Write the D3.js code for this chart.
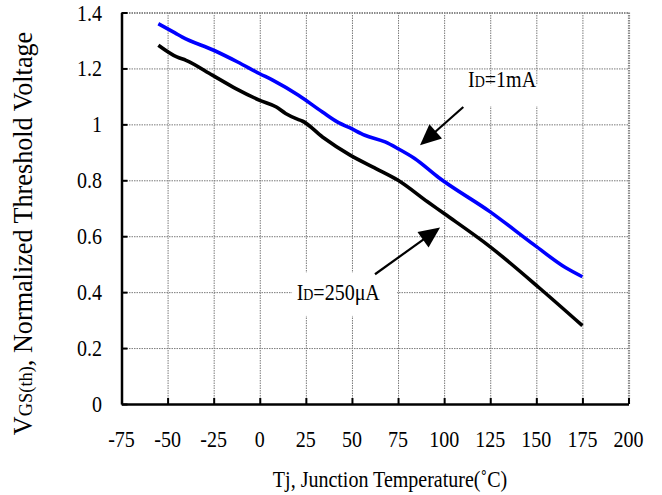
<!DOCTYPE html>
<html><head><meta charset="utf-8">
<script src="https://cdn.jsdelivr.net/npm/d3@7"></script>
<style>body{margin:0;background:#fff} text{font-family:"Liberation Serif","Times New Roman",Times,"DejaVu Serif",serif;}</style>
</head><body>
<svg id="c" width="662" height="495"></svg>
<script>
// ---- data ----
const xTicks = [-75,-50,-25,0,25,50,75,100,125,150,175,200];
const xTickLabels = ["-75","-50","-25","0","25","50","75","100","125","150","175","200"];
const yTicks = [0,0.2,0.4,0.6,0.8,1,1.2,1.4];
const yTickLabels = ["0","0.2","0.4","0.6","0.8","1","1.2","1.4"];
const temp1mA = [-55,-46,-42,-25,-12,0,7,21,34,43,49,57,68,75,84,97,125,149,166,175];
const vth1mA  = [1.36,1.327,1.312,1.265,1.223,1.181,1.158,1.104,1.044,1.005,0.987,0.961,0.937,0.913,0.878,0.81,0.687,0.568,0.487,0.455];
const temp250uA = [-55,-45,-40,-25.5,-13,0,9,14,21,23,34,49,63,75,91,100,125,152,175];
const vth250uA  = [1.283,1.241,1.229,1.175,1.128,1.086,1.062,1.039,1.017,1.012,0.955,0.89,0.842,0.80,0.723,0.681,0.562,0.413,0.28];
const label1mA = {main:"I", sub:"D", rest:"=1mA"};
const label250 = {main:"I", sub:"D", rest:"=250μA"};
const xTitle = "Tj, Junction Temperature(˚C)";
const yTitle = {main:"V", sub:"GS(th)", rest:", Normalized Threshold Voltage"};

// ---- layout ----
const SX = 0.87;
const svg = d3.select("#c");
const x = d3.scaleLinear().domain([-75,200]).range([121.5,628.5]);
const y = d3.scaleLinear().domain([0,1.4]).range([404,12.5]);
const X0 = x(-75), X1 = x(200), Y0 = y(0), Y1 = y(1.4);

// grid
const gx = svg.append("g").attr("transform",`translate(0,${Y0})`)
  .call(d3.axisBottom(x).tickValues(xTicks.slice(1)).tickSize(-(Y0-Y1)).tickFormat(""));
const gy = svg.append("g").attr("transform",`translate(${X0},0)`)
  .call(d3.axisLeft(y).tickValues(yTicks.slice(1)).tickSize(-(X1-X0)).tickFormat(""));
[gx,gy].forEach(g=>{
  g.select(".domain").remove();
  g.selectAll("line").attr("stroke","#7a7a7a").attr("stroke-width",1).attr("stroke-dasharray","1.5,1");
});
gx.selectAll(".tick").filter(d=>d===200).select("line").attr("stroke-width",2.2).attr("stroke","#8a8a8a");
gy.selectAll(".tick").filter(d=>d===1.4).select("line").attr("stroke-width",2.2).attr("stroke","#8a8a8a");

// label backgrounds
svg.append("rect").attr("x",x(112.5)).attr("y",y(1.14)).attr("width",x(165.5)-x(112.5)).attr("height",y(1.065)-y(1.14)).attr("fill","#fff");
svg.append("rect").attr("x",x(17.5)).attr("y",y(0.47)).attr("width",x(74.5)-x(17.5)).attr("height",y(0.315)-y(0.47)).attr("fill","#fff");

// lines
const line = d3.line().x(d=>x(d[0])).y(d=>y(d[1])).curve(d3.curveMonotoneX);
svg.append("path").datum(d3.zip(temp250uA,vth250uA)).attr("d",line)
  .attr("fill","none").attr("stroke","#000").attr("stroke-width",3.6).attr("stroke-linejoin","round");
svg.append("path").datum(d3.zip(temp1mA,vth1mA)).attr("d",line)
  .attr("fill","none").attr("stroke","#0000ff").attr("stroke-width",3.6).attr("stroke-linejoin","round");

// axes
const ax = svg.append("g").attr("transform",`translate(0,${Y0})`)
  .call(d3.axisTop(x).tickValues(xTicks).tickSize(6).tickFormat("").tickSizeOuter(0));
const ay = svg.append("g").attr("transform",`translate(${X0},0)`)
  .call(d3.axisRight(y).tickValues(yTicks).tickSize(6).tickFormat("").tickSizeOuter(0));
[ax,ay].forEach(g=>{
  g.select(".domain").attr("stroke","#000").attr("stroke-width",2.5);
  g.selectAll("line").attr("stroke","#000").attr("stroke-width",2);
});

// tick labels
function cText(px,py,txt,size,anchor,dy){
  const g = svg.append("g").attr("transform",`translate(${px},${py}) scale(${SX},1)`);
  return g.append("text").attr("font-size",size)
    .attr("text-anchor",anchor).attr("dy",dy||0).attr("fill","#000").text(txt);
}
xTicks.forEach((t,i)=>cText(x(t),447,xTickLabels[i],23,"middle"));
yTicks.forEach((t,i)=>cText(102,y(t),yTickLabels[i],23,"end","0.35em"));

// x title
cText((X0+X1)/2+15,486.5,xTitle,23,"middle");

// y title
{
  const g = svg.append("g").attr("transform",`translate(32,233.5) rotate(-90) scale(0.97,1)`);
  const t = g.append("text").attr("font-size",27).attr("text-anchor","middle").attr("fill","#000");
  t.append("tspan").text(yTitle.main);
  t.append("tspan").attr("font-size",19).text(yTitle.sub);
  t.append("tspan").text(yTitle.rest);
}

// annotation labels
function annLabel(px,py,lab){
  const g = svg.append("g").attr("transform",`translate(${px},${py}) scale(${SX},1)`);
  const t = g.append("text").attr("font-size",23).attr("fill","#000");
  t.append("tspan").text(lab.main);
  t.append("tspan").attr("font-size",16).text(lab.sub);
  t.append("tspan").text(lab.rest);
}
annLabel(x(113),y(1.134),label1mA);
annLabel(x(20),y(0.372),label250);

// arrows
function arrow(t0,v0,t1,v1){
  const x0=x(t0),y0=y(v0),x1=x(t1),y1=y(v1);
  const dx=x1-x0, dy=y1-y0, L=Math.hypot(dx,dy), ux=dx/L, uy=dy/L;
  const hl=21, hw=9.5;
  const bx=x1-ux*hl, by=y1-uy*hl;
  svg.append("line").attr("x1",x0).attr("y1",y0).attr("x2",bx+ux*2).attr("y2",by+uy*2)
    .attr("stroke","#000").attr("stroke-width",2.2);
  svg.append("polygon").attr("points",[[x1,y1],[bx-uy*hw,by+ux*hw],[bx+uy*hw,by-ux*hw]].map(p=>p.join(",")).join(" "))
    .attr("fill","#000");
}
arrow(110.4,1.062,86.9,0.925);
arrow(62.5,0.464,97.8,0.631);
</script>
</body></html>
